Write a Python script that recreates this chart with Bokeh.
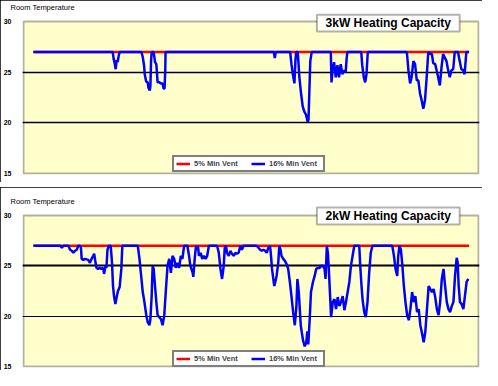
from bokeh.plotting import figure
from bokeh.layouts import column
from bokeh.models import Range1d, FixedTicker, Label, Legend, LegendItem, Grid, BoxAnnotation
from bokeh.embed import file_html
from bokeh.resources import INLINE

# ---- data (time in hours, room temperature in deg C) ----
series_names = ["5% Min Vent", "16% Min Vent"]
panel_titles = ["3kW Heating Capacity", "2kW Heating Capacity"]
y_ticks = [15, 20, 25, 30]
t_start, t_end = -10, 449        # time span of the plot area
v_min, v_max = 15, 30            # temperature span of the plot area

# 3kW panel
t3_red = [0, 439.5]
v3_red = [27.0, 27.0]
t3_blue = [0, 80, 81, 82, 83, 84, 85, 86, 87, 109, 110.3, 111.7, 112.3, 113.7, 115.3, 116, 117.3, 118, 118.7,
           119.3, 121.3, 122.7, 124, 125.3, 127, 128.7, 130.3, 131.3, 132.3, 133, 133.3, 242.5, 243.5, 244.5,
           259, 260.3, 261.7, 263.3, 264.3, 265, 266.7, 268.3, 270, 271.7, 273.3, 275, 276.7, 277.5, 278.3,
           279.3, 280.7, 300, 300.7, 301.7, 303.3, 305, 306.7, 308.3, 310, 311.7, 313.3, 315, 316, 316.7,
           330.7, 331.7, 333.3, 334.7, 336, 337.3, 376.7, 378.3, 380, 381.5, 383.3, 385, 386.7, 388.3, 390,
           391.7, 393.3, 395, 396.7, 398.3, 400.5, 402, 403.3, 405.3, 406.7, 408.3, 410, 411.7, 413.3, 416.7,
           418, 420, 421.7, 423.5, 425, 428.3, 430, 431.7, 433.5, 435, 436.7, 439.5]
v3_blue = [27.0, 27.0, 26.3, 25.9, 25.3, 26.2, 26.0, 26.6, 27.0, 27.0, 26.5, 25.6, 24.8, 24.1, 24.0, 23.5, 23.2,
           23.6, 26.1, 27.0, 27.0, 26.0, 25.8, 24.0, 24.0, 23.9, 23.9, 23.4, 23.4, 25.2, 27.0, 27.0, 26.4,
           27.0, 27.0, 25.8, 24.8, 23.9, 26.1, 27.0, 27.0, 24.5, 22.9, 21.6, 21.1, 20.8, 20.1, 20.3, 22.9,
           26.1, 27.0, 27.0, 24.0, 25.2, 26.0, 24.5, 25.7, 24.5, 25.8, 24.8, 25.2, 25.0, 26.4, 27.0, 27.0,
           25.7, 24.5, 24.0, 24.8, 27.0, 27.0, 25.2, 23.9, 24.5, 26.1, 25.8, 24.2, 24.2, 22.9, 22.2, 21.4,
           22.2, 24.5, 27.0, 26.8, 26.8, 25.9, 25.8, 25.2, 24.5, 23.7, 25.5, 26.8, 26.1, 25.4, 24.5, 25.2,
           25.3, 27.0, 27.0, 26.1, 25.3, 25.2, 24.8, 27.0, 27.0]

# 2kW panel
t2_red = [0, 439.5]
v2_red = [27.0, 27.0]
t2_blue = [0, 27, 28.7, 30.3, 35.3, 37, 38.7, 40.3, 42, 43.7, 45.3, 47, 48, 48.7, 50.3, 52, 55.3, 57, 58.7,
           60.3, 61.3, 62.7, 63.7, 65.3, 67, 68.7, 70.3, 71.3, 72.7, 73.7, 74.7, 76, 78, 79.3, 80.3, 81.3,
           82.7, 84, 85.3, 87, 88.7, 89.7, 105.3, 107, 108.7, 110.3, 112, 113.7, 115.3, 117, 118, 119.3,
           120.3, 121.3, 122.7, 124, 125.3, 127, 128.7, 130.3, 132, 133.7, 135.3, 137, 138.7, 140.3, 142,
           143.7, 145.3, 147, 148.7, 150.3, 152, 153.7, 155.3, 157, 158.3, 160.7, 161.3, 162.7, 164, 165.3,
           166, 167, 168.7, 170.3, 172, 173.7, 175.3, 177, 178.7, 185.3, 187, 188.7, 190.3, 192, 193, 194.3,
           195.3, 197, 198.7, 200.3, 202, 203.7, 205.3, 207, 208.7, 210.3, 212, 215.3, 218.7, 222, 225.3, 227,
           228.7, 230.3, 232, 233.7, 235.3, 237, 238.7, 239.7, 240.7, 242, 243, 244, 245.3, 247, 248, 249.3,
           250.3, 252, 253.7, 255.3, 257, 258.7, 260.3, 262, 263.7, 265.3, 266.3, 267.7, 268.7, 269.7, 270.7,
           272, 273.7, 275.3, 276.3, 277.3, 278.7, 280, 282, 283.7, 285.3, 287, 288.7, 290.3, 292, 293.7,
           294.7, 296, 297, 298, 299.3, 300.3, 302, 303.7, 305.3, 307, 308.7, 310.3, 312, 313.7, 315.3,
           317, 318.7, 320.3, 322, 323.7, 328.7, 329.7, 331, 332, 333.7, 335.3, 337, 338.7, 340.3, 342, 362,
           363.7, 365.3, 367, 368, 369.3, 370.7, 372, 373.7, 375.3, 377, 378.7, 380.3, 382, 383.7, 385.3,
           387, 388.7, 390.3, 392, 393.7, 395.3, 397, 398.7, 400.3, 402, 403.7, 405.3, 407, 408.7, 410.3,
           412, 413.7, 415.3, 417, 418.7, 420.3, 422, 423.7, 425.3, 427, 428, 429, 430.3, 432, 433.7, 435.3,
           437, 438.7]
v2_blue = [27.0, 27.0, 26.8, 27.0, 27.0, 26.6, 26.5, 26.3, 26.5, 26.6, 27.0, 27.0, 26.8, 25.7, 25.6, 25.7,
           25.6, 25.3, 25.7, 26.0, 26.2, 25.3, 24.8, 24.7, 24.8, 24.7, 24.8, 24.2, 25.0, 24.8, 26.6, 27.0,
           27.0, 25.3, 23.0, 22.0, 21.2, 21.9, 22.5, 22.9, 24.7, 27.0, 27.0, 25.7, 24.0, 22.4, 21.4, 20.2,
           19.4, 19.1, 19.7, 22.0, 25.0, 24.7, 23.0, 21.4, 20.1, 19.9, 19.7, 19.1, 20.1, 22.7, 25.0, 25.7,
           24.3, 26.0, 25.7, 24.8, 25.3, 24.8, 26.0, 25.7, 27.0, 27.0, 27.0, 26.0, 25.0, 24.3, 23.9, 25.7,
           27.0, 26.6, 27.0, 26.0, 26.3, 25.7, 26.0, 25.7, 26.0, 27.0, 27.0, 27.0, 26.3, 24.7, 23.7, 25.0,
           26.8, 27.0, 26.3, 26.0, 26.5, 26.2, 26.0, 26.3, 26.2, 26.3, 27.0, 26.6, 27.0, 27.0, 27.0, 27.0,
           27.0, 26.8, 26.6, 26.5, 26.6, 26.5, 26.3, 26.8, 27.0, 26.0, 24.7, 23.7, 23.0, 23.4, 24.0, 25.3,
           27.0, 26.6, 26.0, 25.7, 25.5, 25.2, 24.7, 23.4, 22.0, 20.4, 19.1, 21.0, 23.7, 22.4, 20.7, 19.1,
           18.4, 17.6, 17.0, 17.4, 18.5, 17.2, 19.7, 22.4, 23.4, 24.0, 24.7, 24.8, 24.8, 25.0, 25.0, 24.7,
           23.7, 27.0, 26.3, 24.7, 22.0, 19.9, 21.4, 21.7, 20.7, 21.9, 21.0, 21.4, 22.0, 20.6, 21.4, 22.4,
           23.4, 25.0, 26.0, 27.0, 27.0, 25.0, 23.0, 21.7, 20.4, 19.9, 21.4, 24.3, 26.3, 27.0, 27.0, 26.0,
           24.7, 24.0, 26.0, 27.0, 26.6, 25.3, 23.0, 21.4, 20.1, 19.6, 20.7, 22.4, 21.4, 22.0, 20.4, 20.7,
           19.1, 18.3, 17.4, 18.4, 20.7, 23.0, 22.7, 22.4, 22.7, 21.9, 20.7, 20.1, 21.4, 23.7, 24.7, 23.0,
           21.4, 20.7, 20.4, 21.0, 21.4, 24.0, 25.8, 25.3, 23.0, 21.4, 21.2, 20.7, 22.0, 23.4, 23.7]

FONT = "Liberation Sans"


def make_panel(t_red, v_red, t_blue, v_blue, box_title, box_tb, height, mb_top, mb_bottom,
               grid_w, legend_y):
    p = figure(width=482, height=height, output_backend="svg", toolbar_location=None,
               x_range=Range1d(t_start - 1, t_end + 1), y_range=Range1d(v_min - 0.1, 31),
               min_border_left=19, min_border_right=3,
               min_border_top=mb_top, min_border_bottom=mb_bottom,
               background_fill_color="white", border_fill_color="white",
               outline_line_color=None,
               styles={"outline": "2px solid black", "outline-offset": "-2px"})
    p.title.text = "Room Temperature"
    p.title.text_font = FONT
    p.title.text_font_size = "7.5px"
    p.title.text_font_style = "normal"
    p.title.text_color = "black"
    p.title.align = "left"
    p.title.offset = -12
    p.title.standoff = 0

    # yellow plot area with black frame
    area = BoxAnnotation(left=t_start, right=t_end, bottom=v_min, top=v_max,
                         fill_color="#FFFFCC", fill_alpha=1, line_color="black", line_width=2,
                         level="image")
    p.add_layout(area)

    p.xaxis.visible = False
    p.xgrid.visible = False
    p.yaxis.ticker = FixedTicker(ticks=y_ticks)
    p.yaxis.axis_line_color = None
    p.yaxis.major_tick_line_color = None
    p.yaxis.minor_tick_line_color = None
    p.yaxis.major_label_standoff = 5
    p.yaxis.major_label_text_font = FONT
    p.yaxis.major_label_text_font_size = "7px"
    p.yaxis.major_label_text_font_style = "bold"
    p.yaxis.major_label_text_color = "black"

    p.ygrid.ticker = FixedTicker(ticks=[25])
    p.ygrid.grid_line_color = "black"
    p.ygrid.grid_line_width = grid_w[0]
    p.ygrid.bounds = (t_start, t_end)
    g20 = Grid(dimension=1, ticker=FixedTicker(ticks=[20]), bounds=(t_start, t_end),
               grid_line_color="black", grid_line_width=grid_w[1])
    p.add_layout(g20)

    r_red = p.line(t_red, v_red, line_color="#FF0000", line_width=2.5)
    r_blue = p.line(t_blue, v_blue, line_color="#0000FF", line_width=2.5)

    legend = Legend(items=[LegendItem(label=series_names[0], renderers=[r_red]),
                           LegendItem(label=series_names[1], renderers=[r_blue])],
                    orientation="horizontal", location=(150, legend_y),
                    border_line_color="black", border_line_width=2,
                    background_fill_color="white", background_fill_alpha=1,
                    label_text_font=FONT, label_text_font_style="bold",
                    label_text_font_size="7.5px",
                    glyph_width=14, glyph_height=5, label_height=5, label_width=52,
                    label_standoff=4, spacing=5, padding=2, margin=0)
    p.add_layout(legend)

    top, bottom = box_tb
    box = BoxAnnotation(left=286, right=430, top=top, bottom=bottom,
                        fill_color="white", fill_alpha=1, line_color="black", line_width=2,
                        level="annotation")
    p.add_layout(box)
    lab = Label(x=358, y=(top + bottom) / 2, text=box_title, text_align="center",
                text_baseline="middle", text_font=FONT, text_font_size="12px",
                text_font_style="bold", text_color="black")
    p.add_layout(lab)
    return p


p1 = make_panel(t3_red, v3_red, t3_blue, v3_blue, panel_titles[0], (30.68, 29.03), 182, 9, 8,
                (1.5, 1.5), 2)
p2 = make_panel(t2_red, v2_red, t2_blue, v2_blue, panel_titles[1], (30.79, 29.11), 183, 18, 3,
                (2, 1), 0)

layout = column(p1, p2, spacing=5)
open("out.html", "w").write(file_html(layout, INLINE))
